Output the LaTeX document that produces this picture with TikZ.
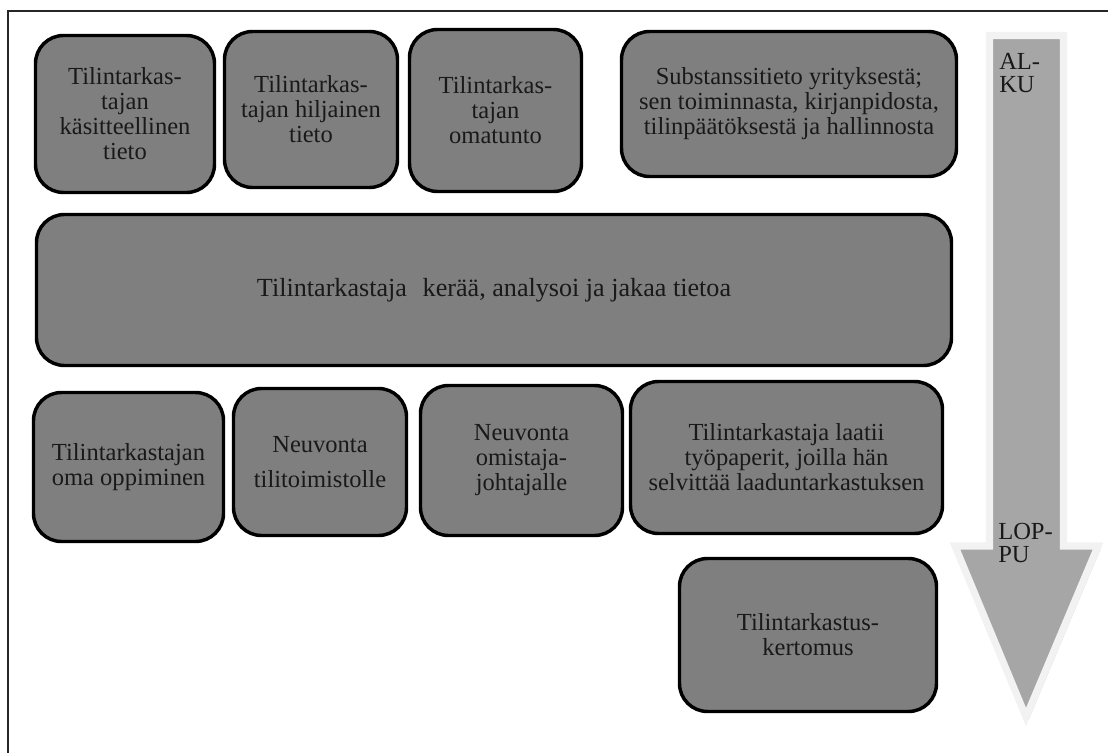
\documentclass[tikz,border=0pt]{standalone}
\usepackage{fontspec}
\setmainfont{Liberation Serif}
\definecolor{boxgray}{HTML}{7F7F7F}
\definecolor{arrowgray}{HTML}{A6A6A6}
\definecolor{arrowedge}{HTML}{F2F2F2}
\definecolor{arrowshadow}{HTML}{C4C4C4}
\begin{document}
\begin{tikzpicture}[x=0.75pt, y=-0.75pt,
  box/.style={draw=black, line width=2.6pt, fill=boxgray, rounded corners=21pt,
    align=center, inner sep=0pt, text=black!90,
    font=\fontsize{18.4}{18.75}\selectfont},
  sz/.style 2 args={minimum width=#1*0.75pt, minimum height=#2*0.75pt},
  arrowtext/.style={anchor=north west, inner sep=0pt, align=left, text=black!90,
    font=\fontsize{18.4}{17.3}\selectfont}]
\useasboundingbox (0,0) rectangle (1108,753);

% frame
\draw[line width=1.5pt, color=black!85] (8,753) -- (8,11) -- (1108,11);

% time arrow: shadow, light rim, grey fill
\path[fill=arrowshadow]
  ([shift={(2.5,3)}]989.5,35.5) -- ([shift={(2.5,3)}]1063.5,35.5) -- ([shift={(2.5,3)}]1063.5,546)
  -- ([shift={(2.5,3)}]1098,546) -- ([shift={(2.5,3)}]1026,717) -- ([shift={(2.5,3)}]955,546)
  -- ([shift={(2.5,3)}]989.5,546) -- cycle;
\draw[fill=arrowgray, draw=arrowedge, line width=5.3pt, line join=miter]
  (989.5,35.5) -- (1063.5,35.5) -- (1063.5,546) -- (1098,546) -- (1026,717)
  -- (955,546) -- (989.5,546) -- cycle;
\node[arrowtext] (alku) at (999,53) {AL-\\KU};
\node[arrowtext] (loppu) at (998,523) {LOP-\\PU};

% top row
\node[box, sz={179}{157}] (kasit) at (125,114) {Tilintarkas-\\tajan\\käsitteellinen\\tieto};
\node[box, sz={173}{156}] (hilj) at (311,109.5) {Tilintarkas-\\tajan hiljainen\\tieto};
\node[box, sz={172}{162}] (omat) at (495.5,110.5) {Tilintarkas-\\tajan\\omatunto};
\node[box, sz={335}{145}] (subst) at (789,104) {Substanssitieto yrityksestä;\\sen toiminnasta, kirjanpidosta,\\tilinpäätöksestä ja hallinnosta};

% central activity
\node[box, sz={915}{151}, font=\fontsize{19.6}{20}\selectfont] (keraa) at (494,290) {Tilintarkastaja\hspace{0.6em}kerää, analysoi ja jakaa tietoa};

% lower row
\node[box, sz={190}{149}] (oppi) at (128.5,467) {Tilintarkastajan\\oma oppiminen};
\node[box, sz={173}{147}] (tilit) at (320,462) {Neuvonta\\[8pt]tilitoimistolle};
\node[box, sz={202}{150}] (omist) at (521.5,460.5) {Neuvonta\\omistaja-\\johtajalle};
\node[box, sz={312}{152}] (laatii) at (786.5,457.5) {Tilintarkastaja laatii\\työpaperit, joilla hän\\selvittää laaduntarkastuksen};

% outcome
\node[box, sz={257}{153}] (kert) at (808,635) {Tilintarkastus-\\kertomus};
\end{tikzpicture}
\end{document}
